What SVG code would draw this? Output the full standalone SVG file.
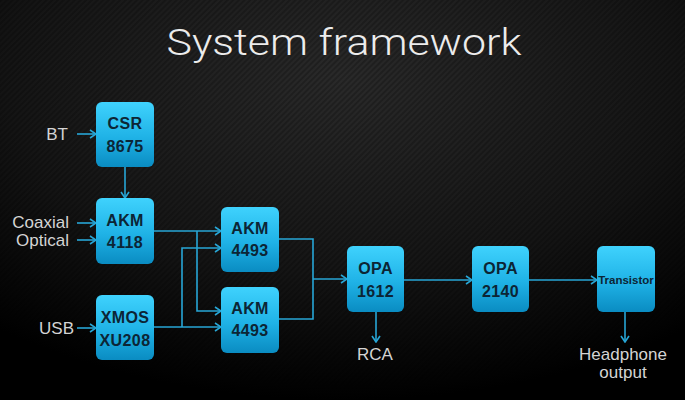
<svg xmlns="http://www.w3.org/2000/svg" width="685" height="400" viewBox="0 0 685 400">
<style>
.box{fill:url(#bg1);}
.bt{font-family:"Liberation Sans",Arial,sans-serif;font-weight:bold;font-size:16px;fill:#0c2535;text-anchor:middle;letter-spacing:0.4px}
.lb{font-family:"Liberation Sans",Arial,sans-serif;font-size:17px;fill:#d4d4d4}
.cn{fill:none;stroke:#27a6d6;stroke-width:1.6}
</style>
<defs>
<linearGradient id="bg1" x1="0" y1="0" x2="0" y2="1">
<stop offset="0" stop-color="#3fd2fd"/>
<stop offset="0.55" stop-color="#1fb2e6"/>
<stop offset="1" stop-color="#0a8cc2"/>
</linearGradient>
<radialGradient id="bgr" cx="0.5" cy="0.2" r="0.8">
<stop offset="0" stop-color="#2a2a2a"/>
<stop offset="0.6" stop-color="#151515"/>
<stop offset="1" stop-color="#000"/>
</radialGradient>
<pattern id="str" width="4" height="4" patternUnits="userSpaceOnUse" patternTransform="rotate(-45)">
<rect width="4" height="2" fill="#000" opacity="0.22"/>
</pattern>
<marker id="ar" markerWidth="8" markerHeight="10" refX="7" refY="5" orient="auto" markerUnits="userSpaceOnUse">
<path d="M1,1 L7,5 L1,9" fill="none" stroke="#27a6d6" stroke-width="1.6"/>
</marker>
</defs>
<rect width="685" height="400" fill="url(#bgr)"/>
<rect width="685" height="400" fill="url(#str)"/>
<text x="344" y="55" font-family="Roboto,'Open Sans',sans-serif" font-weight="300" font-size="36" fill="#ececec" text-anchor="middle" textLength="355" lengthAdjust="spacingAndGlyphs">System framework</text>

<g id="connectors">
<path class="cn" d="M77,134 H96" marker-end="url(#ar)"/>
<path class="cn" d="M77,223 H96" marker-end="url(#ar)"/>
<path class="cn" d="M77,240 H96" marker-end="url(#ar)"/>
<path class="cn" d="M77,328 H96" marker-end="url(#ar)"/>
<path class="cn" d="M125,167 V198" marker-end="url(#ar)"/>
<path class="cn" d="M154,231 H221" marker-end="url(#ar)"/>
<path class="cn" d="M197,231 V311 H221" marker-end="url(#ar)"/>
<path class="cn" d="M154,327 H221" marker-end="url(#ar)"/>
<path class="cn" d="M182,327 V248 H221" marker-end="url(#ar)"/>
<path class="cn" d="M279,239 H313 V319 H279"/>
<path class="cn" d="M313,279 H347" marker-end="url(#ar)"/>
<path class="cn" d="M404,280 H472" marker-end="url(#ar)"/>
<path class="cn" d="M529,280 H597" marker-end="url(#ar)"/>
<path class="cn" d="M376,312 V342" marker-end="url(#ar)"/>
<path class="cn" d="M625,312 V342" marker-end="url(#ar)"/>
</g>

<g id="lbl-bt"><text class="lb" x="68" y="140" text-anchor="end">BT</text></g>
<g id="lbl-coax"><text class="lb" x="69" y="228" text-anchor="end">Coaxial</text></g>
<g id="lbl-opt"><text class="lb" x="69" y="246" text-anchor="end">Optical</text></g>
<g id="lbl-usb"><text class="lb" x="74" y="334" text-anchor="end">USB</text></g>
<g id="lbl-rca"><text class="lb" x="375" y="360" text-anchor="middle">RCA</text></g>
<g id="lbl-hp"><text class="lb" x="623" y="360" text-anchor="middle">Headphone</text><text class="lb" x="623" y="378" text-anchor="middle">output</text></g>

<g id="csr"><rect class="box" x="96" y="102" width="58" height="65" rx="6"/><text class="bt" x="125" y="129">CSR</text><text class="bt" x="125" y="152">8675</text></g>
<g id="akm4118"><rect class="box" x="96" y="198" width="58" height="66" rx="6"/><text class="bt" x="125" y="226">AKM</text><text class="bt" x="125" y="248">4118</text></g>
<g id="xmos"><rect class="box" x="96" y="295" width="58" height="65" rx="6"/><text class="bt" x="125" y="323">XMOS</text><text class="bt" x="125" y="346">XU208</text></g>
<g id="akm4493a"><rect class="box" x="221" y="207" width="58" height="65" rx="6"/><text class="bt" x="250" y="234">AKM</text><text class="bt" x="250" y="256">4493</text></g>
<g id="akm4493b"><rect class="box" x="221" y="287" width="58" height="66" rx="6"/><text class="bt" x="250" y="314">AKM</text><text class="bt" x="250" y="336">4493</text></g>
<g id="opa1612"><rect class="box" x="347" y="246" width="57" height="66" rx="6"/><text class="bt" x="375.5" y="274">OPA</text><text class="bt" x="375.5" y="297">1612</text></g>
<g id="opa2140"><rect class="box" x="472" y="246" width="57" height="66" rx="6"/><text class="bt" x="500.5" y="274">OPA</text><text class="bt" x="500.5" y="297">2140</text></g>
<g id="transistor"><rect class="box" x="597" y="246" width="58" height="66" rx="6"/><text class="bt" x="626" y="284" style="font-size:11.5px;letter-spacing:0">Transistor</text></g>
</svg>
